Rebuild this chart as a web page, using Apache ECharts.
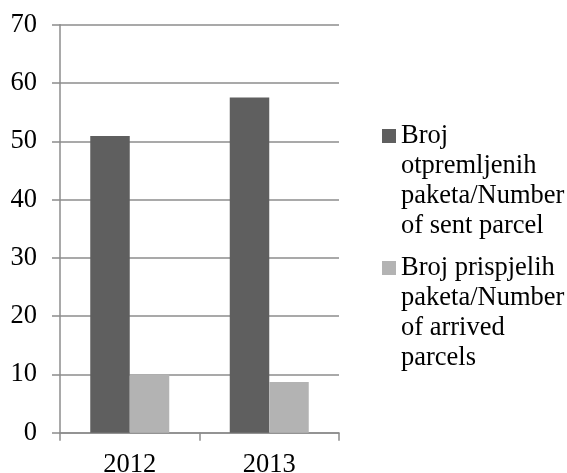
<!DOCTYPE html>
<html>
<head>
<meta charset="utf-8">
<script src="https://cdn.jsdelivr.net/npm/echarts@6/dist/echarts.min.js"></script>
<style>html,body{margin:0;padding:0;background:#fff;}#c{width:567px;height:473px;}</style>
</head>
<body>
<div id="c"></div>
<script>
var categories = ['2012', '2013'];
var sentValues = [50.9, 57.5];
var arrivedValues = [10.0, 8.7];
var seriesNames = ['Broj otpremljenih paketa/Number of sent parcel', 'Broj prispjelih paketa/Number of arrived parcels'];
var legendLines = [
  ['Broj', 'otpremljenih', 'paketa/Number', 'of sent parcel'],
  ['Broj prispjelih', 'paketa/Number', 'of arrived', 'parcels']
];
var yTicks = [0, 10, 20, 30, 40, 50, 60, 70];

var colors = ['#5f5f5f', '#b3b3b3'];
var FONT = "'Liberation Serif', 'Times New Roman', serif";
var FS = 26.5;
var chart = echarts.init(document.getElementById('c'));
chart.setOption({
  animation: false,
  grid: { left: 60, right: 228, top: 24.7, bottom: 40.3, outerBoundsMode: 'none', containLabel: false },
  xAxis: {
    type: 'category',
    data: categories,
    axisLine: { lineStyle: { color: '#8c8c8c', width: 1.5 } },
    axisTick: { show: true, length: 8, lineStyle: { color: '#8c8c8c', width: 1.5 } },
    axisLabel: { fontFamily: FONT, fontSize: FS, color: '#000', margin: 19 }
  },
  yAxis: {
    type: 'value',
    min: yTicks[0],
    max: yTicks[yTicks.length - 1],
    interval: 10,
    axisLine: { show: true, lineStyle: { color: '#8c8c8c', width: 1.5 } },
    axisTick: { show: true, length: 8, lineStyle: { color: '#8c8c8c', width: 1.5 } },
    splitLine: { show: true, lineStyle: { color: '#8c8c8c', width: 1.5 } },
    axisLabel: { fontFamily: FONT, fontSize: FS, color: '#000', margin: 23 }
  },
  legend: {
    orient: 'vertical',
    left: 377,
    top: 121,
    padding: 0,
    itemGap: 12,
    itemWidth: 0,
    itemHeight: 0,
    data: seriesNames,
    formatter: function (name) {
      var idx = seriesNames.indexOf(name);
      var lines = legendLines[idx];
      var key = idx === 0 ? 'sqA' : 'sqB';
      return lines.map(function (l, i) {
        return i === 0 ? '{' + key + '|}{gap|}{t|' + l + '}' : '{sp|}{t|' + l + '}';
      }).join('\n');
    },
    textStyle: {
      fontFamily: FONT, fontSize: FS, color: '#000', lineHeight: 30,
      rich: {
        sqA: { width: 14, height: 14, backgroundColor: colors[0], lineHeight: 30 },
        sqB: { width: 14, height: 14, backgroundColor: colors[1], lineHeight: 30 },
        gap: { width: 5, lineHeight: 30 },
        sp: { width: 19, lineHeight: 30 },
        t: { fontFamily: FONT, fontSize: FS, color: '#000', lineHeight: 30 }
      }
    }
  },
  series: [
    { name: seriesNames[0], type: 'bar', data: sentValues, barWidth: 39.5, barGap: '0%', itemStyle: { color: colors[0] } },
    { name: seriesNames[1], type: 'bar', data: arrivedValues, barWidth: 39.5, barGap: '0%', itemStyle: { color: colors[1] } }
  ]
});
</script>
</body>
</html>
